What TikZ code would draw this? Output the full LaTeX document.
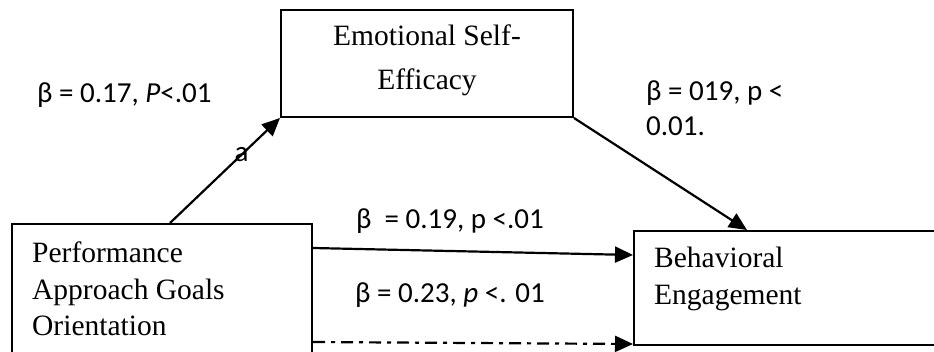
\documentclass[tikz,border=0pt]{standalone}
\usepackage{fontspec}
\setmainfont{Liberation Serif}
\newfontfamily\calibri{Carlito}
\usetikzlibrary{calc, positioning, arrows.meta}

\begin{document}
\begin{tikzpicture}[
    x=1pt, y=-1pt,
    box/.style={draw, line width=2pt, rectangle, inner sep=0pt},
    boxtext/.style={font=\fontsize{29.5}{36.5}\selectfont, align=left, inner sep=0pt},
    coef/.style={font=\calibri\fontsize{29}{35}\selectfont, align=left, inner sep=0pt},
    arrow/.style={-{Triangle[length=18pt,width=16pt]}, line width=2.2pt}
]
\useasboundingbox (0,0) rectangle (934,351);
\clip (0,0) rectangle (934,351);

\node[box, minimum width=292pt, minimum height=107pt,
      label={[boxtext, align=center, anchor=north, yshift=-16pt, font=\fontsize{29.5}{44}\selectfont]north:{Emotional Self-\\Efficacy}}] (ese) at (427,63.5) {};
\node[box, minimum width=300pt, minimum height=200pt,
      label={[boxtext, anchor=north west, xshift=21pt, yshift=-19pt]north west:{Performance\\Approach Goals\\Orientation}}] (perf) at (162,324) {};
\node[box, minimum width=400pt, minimum height=114pt,
      label={[boxtext, anchor=north west, xshift=21pt, yshift=-17pt]north west:{Behavioral\\Engagement}}] (beh) at (834,288) {};

\node[coef, anchor=base west] (c1) at (37,102) {β = 0.17, \textit{P}<.01};
\node[coef, anchor=base west] (c2) at (646,135) {β = 019, p <\\0.01.};
\node[coef, anchor=base west] (c3) at (356,228) {β \ = 0.19, p <.01};
\node[coef, anchor=base west] (c4) at (355,302) {β = 0.23, \textit{p} <. 01};

\draw[arrow] ([xshift=8pt]perf.north) -- (ese.south west) node[coef, pos=0.65] {a};
\draw[arrow] (ese.south east) -- ([xshift=114pt]beh.north west);
\draw[arrow] ($(perf.north east)+(0,25)$) -- ($(beh.north west)+(0,25)$);
\draw[arrow, dash pattern=on 12pt off 6pt on 4pt off 6pt] ($(perf.north east)+(0,119)$) -- ($(beh.south west)+(0,-2)$);
\end{tikzpicture}
\end{document}
